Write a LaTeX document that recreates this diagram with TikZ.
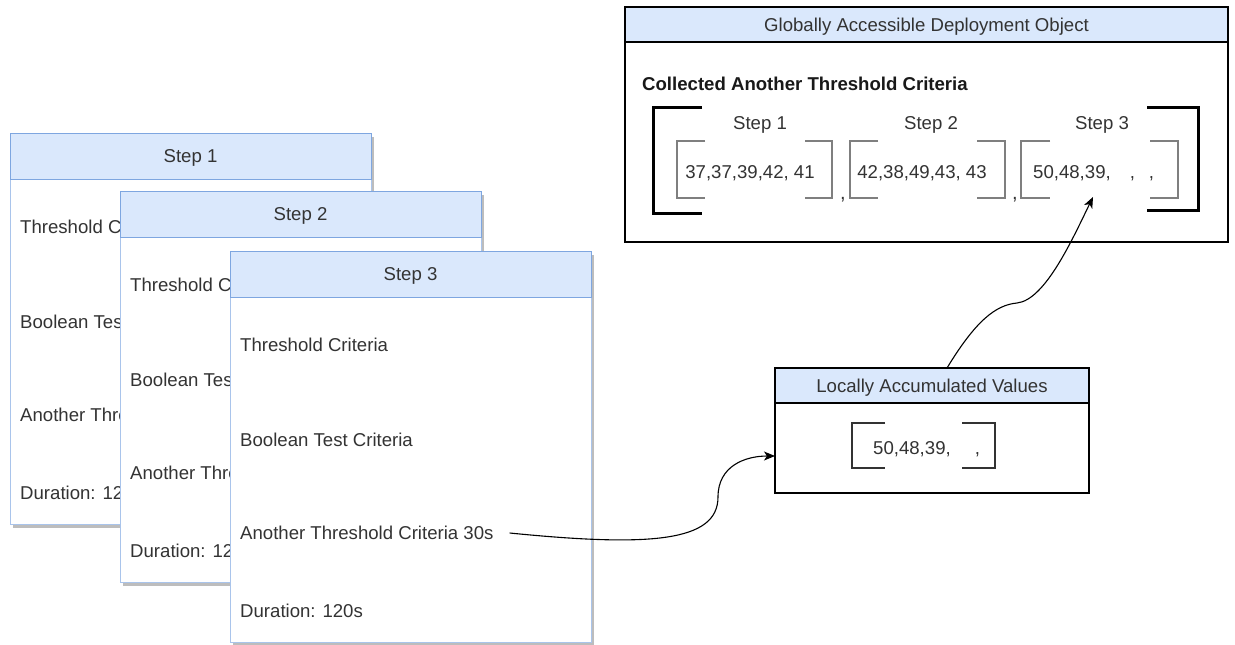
\documentclass[tikz,border=0pt]{standalone}
\usepackage{fontspec}
\setmainfont{Liberation Sans}
\usetikzlibrary{arrows.meta}
\definecolor{hdrfill}{HTML}{DAE8FC}
\definecolor{hdrline}{HTML}{7EA6E0}
\definecolor{cardline}{HTML}{A9C4EB}
\definecolor{shadowgray}{HTML}{BDBDBD}
\definecolor{txt}{HTML}{333333}
\definecolor{brk}{HTML}{7F7F7F}
\newcommand{\stepcard}[4]{%
  \fill[shadowgray] (#2+3,#3+4) rectangle (#2+364,#3+395);
  \node[cardbody, anchor=north west] (#1) at (#2,#3) {};
  \node[cardhead, anchor=north west] (#1h) at (#2,#3) {#4};
  \node[rowtext] (#1r1) at (#2+10,#3+94) {Threshold Criteria};
  \node[rowtext] (#1r2) at (#2+10,#3+189) {Boolean Test Criteria};
  \node[rowtext] (#1r3) at (#2+10,#3+282) {Another Threshold Criteria 30s};
  \node[rowtext] (#1r4) at (#2+10,#3+360) {Duration: 120s};
}
\begin{document}
\begin{tikzpicture}[x=1pt,y=-1pt,
  font=\fontsize{18.6}{22}\selectfont,
  every node/.style={text=txt},
  cardbody/.style={draw=cardline, fill=white, line width=1pt, minimum width=361pt, minimum height=391pt, inner sep=0pt, outer sep=0pt},
  cardhead/.style={draw=hdrline, fill=hdrfill, line width=1pt, minimum width=361pt, minimum height=46pt, inner sep=0pt, outer sep=0pt, text height=13.3pt, text depth=0pt},
  rowtext/.style={anchor=west, inner sep=0pt, text depth=0pt},
  boxbody/.style={draw=black, fill=white, line width=1.4pt, inner sep=0pt, outer sep=0pt},
  boxhead/.style={draw=black, fill=hdrfill, line width=1.4pt, inner sep=0pt, outer sep=0pt, minimum height=35pt, text height=13.3pt, text depth=0pt},
  plain/.style={inner sep=0pt, text depth=0pt},
  bigbrk/.style={draw=black, line width=3pt},
  smallbrk/.style={draw=brk, line width=2pt},
  locbrk/.style={draw=black!80, line width=1.4pt},
  link/.style={draw=black, line width=1.1pt, -{Stealth[length=11pt,width=9pt,inset=3pt]}}
]
\useasboundingbox (0,0) rectangle (1235,645);

% ---- step cards ----
\stepcard{c1}{10}{133}{Step 1}
\stepcard{c2}{120}{191}{Step 2}
\stepcard{c3}{230}{251}{Step 3}

% ---- global deployment object ----
\node[boxbody, anchor=north west, minimum width=603pt, minimum height=235pt] (global) at (625,7) {};
\node[boxhead, anchor=north west, minimum width=603pt] (globalh) at (625,7) {Globally Accessible Deployment Object};
\node[plain, anchor=west, font=\fontsize{18.6}{22}\selectfont\bfseries, text=black!90] (coll) at (642,84) {Collected Another Threshold Criteria};

\draw[bigbrk] (702,107) -- (653,107) -- (653,213) -- (702,213);
\draw[bigbrk] (1147,107) -- (1198,107) -- (1198,210) -- (1147,210);

\node[plain] (gs1) at (760,123) {Step 1};
\node[plain] (gs2) at (931,123) {Step 2};
\node[plain] (gs3) at (1102,123) {Step 3};

\draw[smallbrk] (705,141) -- (677,141) -- (677,198) -- (705,198);
\draw[smallbrk] (805,141) -- (832,141) -- (832,198) -- (805,198);
\draw[smallbrk] (878,141) -- (850,141) -- (850,198) -- (878,198);
\draw[smallbrk] (977,141) -- (1005,141) -- (1005,198) -- (977,198);
\draw[smallbrk] (1050,141) -- (1021,141) -- (1021,198) -- (1050,198);
\draw[smallbrk] (1150,141) -- (1178,141) -- (1178,198) -- (1150,198);

\node[plain] (gv1) at (750,172) {37,37,39,42, 41};
\node[plain] (gv2) at (922,172) {42,38,49,43, 43};
\node[plain, anchor=west] (gv3) at (1033,172) {50,48,39,\hspace{19pt},\hspace{14pt},};
\node[plain, anchor=base, font=\fontsize{20}{22}\selectfont] (gc1) at (843,199) {,};
\node[plain, anchor=base, font=\fontsize{20}{22}\selectfont] (gc2) at (1015,199) {,};

% ---- local box ----
\node[boxbody, anchor=north west, minimum width=314pt, minimum height=125pt] (local) at (775,368) {};
\node[boxhead, anchor=north west, minimum width=314pt] (localh) at (775,368) {Locally Accumulated Values};
\draw[locbrk] (885,423) -- (852,423) -- (852,468) -- (885,468);
\draw[locbrk] (962,423) -- (995,423) -- (995,468) -- (962,468);
\node[plain, anchor=west] (lv) at (873,448) {50,48,39,\hspace{24pt},};

% ---- connectors ----
\coordinate (localin) at (775,456);
\coordinate (localout) at (947,368);
\coordinate (gstep3in) at (1093,197);
\draw[link] ([xshift=16pt]c3r3.east) .. controls (650,547) and (718,542) .. (718,497)
   .. controls (718,466) and (745,456) .. (localin);
\draw[link] (localout) .. controls (975,322) and (995,305) .. (1017,303)
   .. controls (1045,300) and (1072,240) .. (gstep3in);
\end{tikzpicture}
\end{document}
